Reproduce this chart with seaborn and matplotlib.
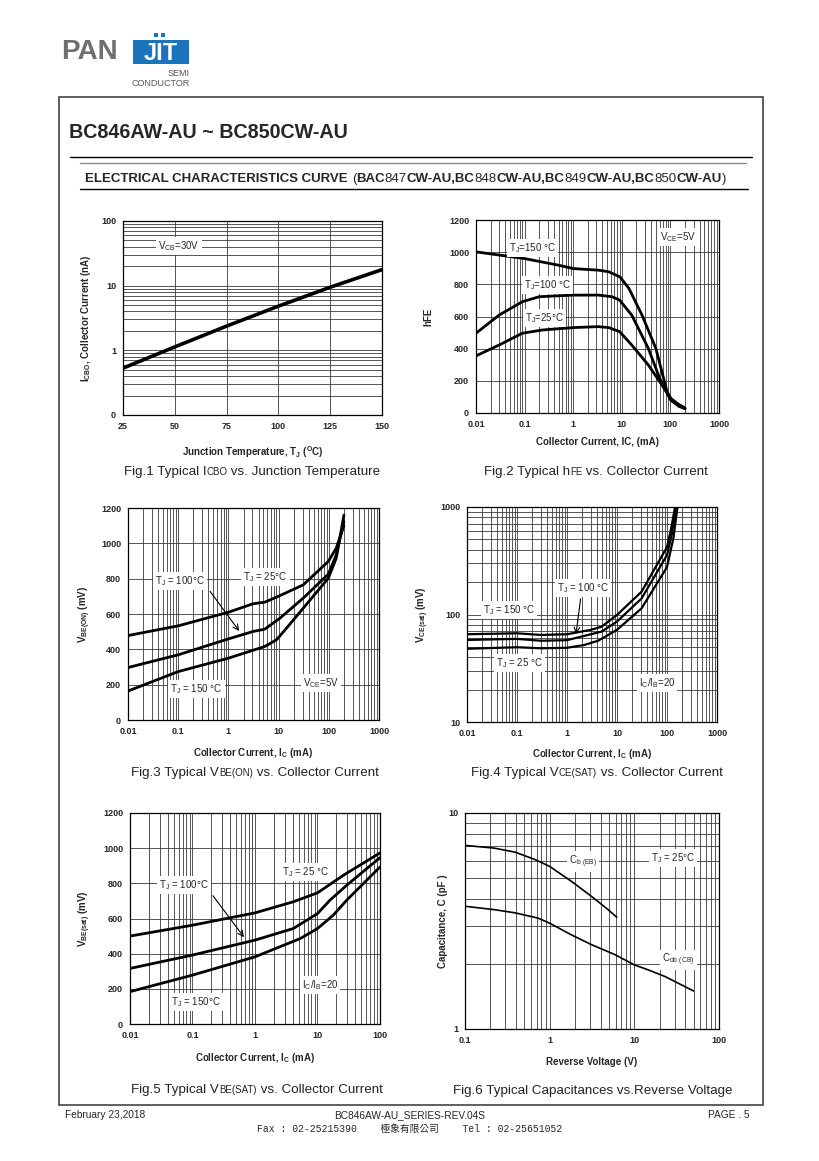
import numpy as np
import seaborn as sns
import matplotlib
matplotlib.use("Agg")
import matplotlib.pyplot as plt
from matplotlib.offsetbox import TextArea, HPacker, AnnotationBbox
from matplotlib.patches import Rectangle
from matplotlib.lines import Line2D
from matplotlib.ticker import LogLocator, NullFormatter

W, H = 820, 1161

# ---------------- data ----------------
# Fig.1  ICBO vs TJ
tj_temp = [25, 50, 75, 100, 125, 150]
icbo_na = [0.53, 1.13, 2.37, 4.82, 9.46, 17.7]
f1_xticks = [25, 50, 75, 100, 125, 150]
f1_yticks = [0.1, 1, 10, 100]
f1_ylabels = ["0", "1", "10", "100"]

# Fig.2  hFE vs IC
hfe_ic_150 = [0.01, 0.1, 0.5, 1, 3.3, 5.4, 9.1, 14, 26, 50, 85, 110, 175, 200]
hfe_150 = [1002, 960, 919, 898, 888, 878, 847, 775, 609, 403, 134, 72, 41, 31]
hfe_ic_100 = [0.01, 0.03, 0.09, 0.2, 1, 3.3, 6.3, 9, 16, 35, 60, 100, 150, 200]
hfe_100 = [496, 609, 692, 723, 733, 733, 723, 702, 609, 403, 217, 83, 41, 27]
hfe_ic_25 = [0.01, 0.03, 0.09, 0.23, 1, 3.3, 5.4, 9, 16, 35, 60, 100, 150, 200]
hfe_25 = [355, 423, 496, 516, 531, 537, 531, 506, 423, 299, 196, 93, 52, 27]

# Fig.3  VBE(ON) vs IC
vbe_ic_25 = [0.01, 0.1, 1, 3.1, 5.3, 9.7, 31, 98, 141, 200]
vbe_25 = [478, 533, 610, 658, 667, 699, 765, 898, 973, 1100]
vbe_ic_100 = [0.01, 0.1, 1, 3.1, 5.3, 10.6, 31, 98, 141, 200]
vbe_100 = [297, 369, 459, 501, 514, 576, 690, 826, 935, 1125]
vbe_ic_150 = [0.01, 0.1, 1, 5.3, 9.1, 14.4, 31, 98, 141, 200]
vbe_150 = [164, 274, 350, 416, 454, 520, 633, 803, 917, 1160]

# Fig.4  VCE(sat) vs IC
vce_ic_150 = [0.01, 0.1, 0.3, 1.0, 3.0, 4.9, 10, 31, 100, 121, 145]
vce_150 = [65.5, 66.9, 64.5, 65.5, 72, 77, 99, 163, 424, 630, 1000]
vce_ic_100 = [0.01, 0.1, 0.3, 1.0, 4.9, 10, 31, 100, 125, 152]
vce_100 = [58, 59.3, 57, 57.7, 69.3, 86, 141, 357, 560, 1000]
vce_ic_25 = [0.01, 0.1, 0.3, 1.0, 2.2, 4.2, 10, 31, 100, 135, 162]
vce_25 = [48, 49.6, 48.5, 49, 52, 57, 72, 114, 276, 520, 1000]

# Fig.5  VBE(sat) vs IC
vbs_ic_25 = [0.01, 0.1, 1, 4.1, 10, 26, 100]
vbs_25 = [500, 562, 632, 695, 746, 846, 973]
vbs_ic_100 = [0.01, 0.1, 1, 4.1, 10, 15.8, 29.3, 100]
vbs_100 = [316, 392, 477, 543, 628, 704, 789, 946]
vbs_ic_150 = [0.01, 0.1, 1, 5.3, 10, 17.9, 29.3, 100]
vbs_150 = [184, 278, 382, 486, 543, 619, 704, 893]

# Fig.6  capacitances vs reverse voltage
cb_v = [0.1, 0.22, 0.39, 0.67, 1.0, 1.8, 3.1, 4.9, 6.2]
cb_pf = [7.08, 6.88, 6.59, 6.09, 5.66, 4.83, 4.12, 3.57, 3.29]
cob_v = [0.1, 0.22, 0.39, 0.73, 1.0, 1.8, 3.1, 5.9, 10, 14.5, 23, 50]
cob_pf = [3.70, 3.57, 3.45, 3.26, 3.09, 2.73, 2.46, 2.21, 1.98, 1.88, 1.75, 1.50]

ic_ticks_5 = [0.01, 0.1, 1, 10, 100, 1000]
ic_labels_5 = ["0.01", "0.1", "1", "10", "100", "1000"]
ic_ticks_4 = [0.01, 0.1, 1, 10, 100]
ic_labels_4 = ["0.01", "0.1", "1", "10", "100"]
mv_ticks = [0, 200, 400, 600, 800, 1000, 1200]
vce_ticks = [10, 100, 1000]
vr_ticks = [0.1, 1, 10, 100]
vr_labels = ["0.1", "1", "10", "100"]
cap_ticks = [1, 10]

# ---------------- figure ----------------
sns.set_style("white")
plt.rcParams['font.family'] = ['Liberation Sans', 'DejaVu Sans']
plt.rcParams['mathtext.default'] = 'regular'

fig = plt.figure(figsize=(W / 100, H / 100), dpi=100)

CAP = 9.6      # caption size
CAP_S = 7.0    # small caps part of captions
AXL = 7        # axis label size


def fx(x):
    return x / W


def fy(y):
    return 1 - y / H


def add_ax(l, t, r, b):
    return fig.add_axes([l / W, 1 - b / H, (r - l) / W, (b - t) / H])


def style(ax, logx=False, logy=False):
    if logx:
        ax.set_xscale('log')
        ax.xaxis.set_minor_locator(LogLocator(base=10, subs=np.arange(2, 10)))
        ax.xaxis.set_minor_formatter(NullFormatter())
    if logy:
        ax.set_yscale('log')
        ax.yaxis.set_minor_locator(LogLocator(base=10, subs=np.arange(2, 10)))
        ax.yaxis.set_minor_formatter(NullFormatter())
    ax.grid(True, which='both', color='#3a3a3a', lw=0.6)
    ax.set_axisbelow(True)
    ax.tick_params(which='major', direction='out', length=3, width=0.8,
                   labelsize=6.5, pad=2, color='black')
    ax.tick_params(which='minor', length=0)
    for s in ax.spines.values():
        s.set_color('black')
        s.set_linewidth(0.9)


def labels(ax, box, xl, xl_top, yl, yl_right):
    l, t, r, b = box
    ax.set_xlabel(xl, fontsize=AXL, fontweight='bold')
    ax.set_ylabel(yl, fontsize=AXL, fontweight='bold')
    ax.xaxis.set_label_coords(0.5, (b - xl_top) / (b - t))
    ax.yaxis.set_label_coords((yl_right - l) / (r - l), 0.5)
    for lab in ax.get_xticklabels() + ax.get_yticklabels():
        lab.set_fontweight('bold')


def note(ax, x, y, s, size=7):
    ax.text(x, y, s, fontsize=size, ha='center', va='center',
            bbox=dict(facecolor='white', edgecolor='none', pad=1.5))


def caption(cx, cy, parts):
    kids = [TextArea(t, textprops=dict(fontsize=s, color='#222222'))
            for t, s in parts]
    pack = HPacker(children=kids, align='baseline', pad=0, sep=0)
    ab = AnnotationBbox(pack, (fx(cx), fy(cy)), xycoords='figure fraction',
                        frameon=False, box_alignment=(0.5, 0.5))
    fig.add_artist(ab)


# ---- header ----
fig.text(fx(61), fy(52), "PAN", fontsize=20, color='#6d6e71', fontweight='bold',
         va='center', ha='left')
fig.add_artist(Rectangle((fx(133), fy(64)), fx(189) - fx(133), fy(40) - fy(64),
                         transform=fig.transFigure, color='#1c75bc', lw=0))
fig.text(fx(161), fy(53), "JIT", fontsize=17, color='white', fontweight='bold',
         va='center', ha='center')
for dx in (154, 161):
    fig.add_artist(Rectangle((fx(dx), fy(37)), 4 / W, 4 / H,
                             transform=fig.transFigure, color='#1c75bc', lw=0))
fig.text(fx(190), fy(73), "SEMI", fontsize=6.5, color='#555555', ha='right', va='center')
fig.text(fx(190), fy(84), "CONDUCTOR", fontsize=6.5, color='#555555', ha='right', va='center')

fig.add_artist(Rectangle((fx(59), fy(1105)), fx(763) - fx(59), fy(97) - fy(1105),
                         transform=fig.transFigure, fill=False, ec='#444444', lw=1.2))
fig.text(fx(69), fy(132), "BC846AW-AU ~ BC850CW-AU", fontsize=14.2, fontweight='bold',
         ha='left', va='center')
fig.add_artist(Line2D([fx(70), fx(752)], [fy(157), fy(157)], color='black', lw=1.0))
fig.add_artist(Line2D([fx(80), fx(746)], [fy(163), fy(163)], color='#888888', lw=1.0))
fig.add_artist(Line2D([fx(80), fx(748)], [fy(189), fy(189)], color='black', lw=1.0))

sub_parts = [("ELECTRICAL CHARACTERISTICS CURVE ", 'bold'), ("(", 'normal'),
             ("BAC", 'bold'), ("847", 'normal'), ("CW-AU,BC", 'bold'), ("848", 'normal'),
             ("CW-AU,BC", 'bold'), ("849", 'normal'), ("CW-AU,BC", 'bold'),
             ("850", 'normal'), ("CW-AU", 'bold'), (")", 'normal')]
sub_kids = [TextArea(t, textprops=dict(fontsize=9.5, fontweight=w)) for t, w in sub_parts]
fig.add_artist(AnnotationBbox(HPacker(children=sub_kids, align='baseline', pad=0, sep=0),
                              (fx(406), fy(179)), xycoords='figure fraction',
                              frameon=False, box_alignment=(0.5, 0.5)))

# ---- Fig.1 ----
b1 = (123, 221, 382, 415)
ax1 = add_ax(*b1)
style(ax1, logy=True)
sns.lineplot(x=tj_temp, y=icbo_na, ax=ax1, color='black', lw=2.6)
ax1.set_xlim(25, 150)
ax1.set_ylim(0.1, 100)
ax1.set_xticks(f1_xticks, [str(v) for v in f1_xticks])
ax1.set_yticks(f1_yticks, f1_ylabels)
labels(ax1, b1, "Junction Temperature, T$_J$ ($^O$C)", 444,
       "I$_{CBO}$, Collector Current (nA)", 93)
note(ax1, 52, 41, "V$_{CB}$=30V")
caption(252, 472, [("Fig.1 Typical I", CAP), ("CBO", CAP_S), (" vs. Junction Temperature", CAP)])

# ---- Fig.2 ----
b2 = (476, 220, 719, 413)
ax2 = add_ax(*b2)
style(ax2, logx=True)
for xs, ys in [(hfe_ic_150, hfe_150), (hfe_ic_100, hfe_100), (hfe_ic_25, hfe_25)]:
    sns.lineplot(x=xs, y=ys, ax=ax2, color='black', lw=2.0)
ax2.set_xlim(0.01, 1000)
ax2.set_ylim(0, 1200)
ax2.set_xticks(ic_ticks_5, ic_labels_5)
ax2.set_yticks(mv_ticks, [str(v) for v in mv_ticks])
labels(ax2, b2, "Collector Current, IC, (mA)", 437, "hFE", 433)
note(ax2, 0.148, 1024, "T$_J$=150 °C")
note(ax2, 0.30, 795, "T$_J$=100 °C")
note(ax2, 0.26, 590, "T$_J$=25°C")
note(ax2, 144, 1093, "V$_{CE}$=5V")
caption(596, 472, [("Fig.2 Typical h", CAP), ("FE", CAP_S), (" vs. Collector Current", CAP)])

# ---- Fig.3 ----
b3 = (128, 508, 379, 720)
ax3 = add_ax(*b3)
style(ax3, logx=True)
for xs, ys in [(vbe_ic_25, vbe_25), (vbe_ic_100, vbe_100), (vbe_ic_150, vbe_150)]:
    sns.lineplot(x=xs, y=ys, ax=ax3, color='black', lw=2.0)
ax3.set_xlim(0.01, 1000)
ax3.set_ylim(0, 1200)
ax3.set_xticks(ic_ticks_5, ic_labels_5)
ax3.set_yticks(mv_ticks, [str(v) for v in mv_ticks])
labels(ax3, b3, "Collector Current, I$_C$ (mA)", 746, "V$_{BE(ON)}$ (mV)", 93)
note(ax3, 0.107, 788, "T$_J$ = 100°C")
note(ax3, 5.5, 807, "T$_J$ = 25°C")
note(ax3, 0.23, 174, "T$_J$ = 150 °C")
note(ax3, 69, 208, "V$_{CE}$=5V")
ax3.annotate("", xy=(1.77, 491), xytext=(0.4, 741),
             arrowprops=dict(arrowstyle='->', lw=0.8, color='black'))
caption(255, 773, [("Fig.3 Typical V", CAP), ("BE(ON)", CAP_S), (" vs. Collector Current", CAP)])

# ---- Fig.4 ----
b4 = (467, 507, 717, 722)
ax4 = add_ax(*b4)
style(ax4, logx=True, logy=True)
for xs, ys in [(vce_ic_150, vce_150), (vce_ic_100, vce_100), (vce_ic_25, vce_25)]:
    sns.lineplot(x=xs, y=ys, ax=ax4, color='black', lw=1.6)
ax4.set_xlim(0.01, 1000)
ax4.set_ylim(10, 1000)
ax4.set_xticks(ic_ticks_5, ic_labels_5)
ax4.set_yticks(vce_ticks, [str(v) for v in vce_ticks])
labels(ax4, b4, "Collector Current, I$_C$ (mA)", 747, "V$_{CE(sat)}$ (mV)", 431)
note(ax4, 2.09, 175, "T$_J$ = 100 °C")
note(ax4, 0.069, 110, "T$_J$ = 150 °C")
note(ax4, 0.113, 35.2, "T$_J$ = 25 °C")
note(ax4, 63, 23, "I$_C$/I$_B$=20")
ax4.annotate("", xy=(1.49, 62), xytext=(1.9, 148),
             arrowprops=dict(arrowstyle='->', lw=0.8, color='black'))
caption(597, 773, [("Fig.4 Typical V", CAP), ("CE(SAT)", CAP_S), (" vs. Collector Current", CAP)])

# ---- Fig.5 ----
b5 = (130, 813, 380, 1024)
ax5 = add_ax(*b5)
style(ax5, logx=True)
for xs, ys in [(vbs_ic_25, vbs_25), (vbs_ic_100, vbs_100), (vbs_ic_150, vbs_150)]:
    sns.lineplot(x=xs, y=ys, ax=ax5, color='black', lw=2.0)
ax5.set_xlim(0.01, 100)
ax5.set_ylim(0, 1200)
ax5.set_xticks(ic_ticks_4, ic_labels_4)
ax5.set_yticks(mv_ticks, [str(v) for v in mv_ticks])
labels(ax5, b5, "Collector Current, I$_C$ (mA)", 1051, "V$_{BE(sat)}$ (mV)", 93)
note(ax5, 0.073, 789, "T$_J$ = 100°C")
note(ax5, 6.5, 865, "T$_J$ = 25 °C")
note(ax5, 0.113, 127, "T$_J$ = 150°C")
note(ax5, 11, 221, "I$_C$/I$_B$=20")
ax5.annotate("", xy=(0.71, 481), xytext=(0.2, 742),
             arrowprops=dict(arrowstyle='->', lw=0.8, color='black'))
caption(257, 1090, [("Fig.5 Typical V", CAP), ("BE(SAT)", CAP_S), (" vs. Collector Current", CAP)])

# ---- Fig.6 ----
b6 = (465, 813, 719, 1029)
ax6 = add_ax(*b6)
style(ax6, logx=True, logy=True)
sns.lineplot(x=cb_v, y=cb_pf, ax=ax6, color='black', lw=1.2)
sns.lineplot(x=cob_v, y=cob_pf, ax=ax6, color='black', lw=1.2)
ax6.set_xlim(0.1, 100)
ax6.set_ylim(1, 10)
ax6.set_xticks(vr_ticks, vr_labels)
ax6.set_yticks(cap_ticks, [str(v) for v in cap_ticks])
labels(ax6, b6, "Reverse Voltage (V)", 1057, "Capacitance, C (pF )", 448)
note(ax6, 2.49, 5.97, "C$_{b\\ (EB)}$")
note(ax6, 28.7, 6.19, "T$_J$ = 25°C")
note(ax6, 33, 2.09, "C$_{ob\\ (CB)}$")
caption(593, 1091, [("Fig.6 Typical Capacitances vs.Reverse Voltage", CAP)])

# ---- footer ----
fig.text(fx(65), fy(1115), "February 23,2018", fontsize=7.3, ha='left', va='center')
fig.text(fx(410), fy(1115), "BC846AW-AU_SERIES-REV.04S", fontsize=7.3, ha='center', va='center')
fig.text(fx(750), fy(1115), "PAGE . 5", fontsize=7.3, ha='right', va='center')
fig.text(fx(410), fy(1129), "Fax : 02-25215390    極象有限公司    Tel : 02-25651052",
         fontsize=7, ha='center', va='center',
         family=['Liberation Mono', 'Noto Sans CJK TC'])

fig.savefig("out.png", dpi=100)
